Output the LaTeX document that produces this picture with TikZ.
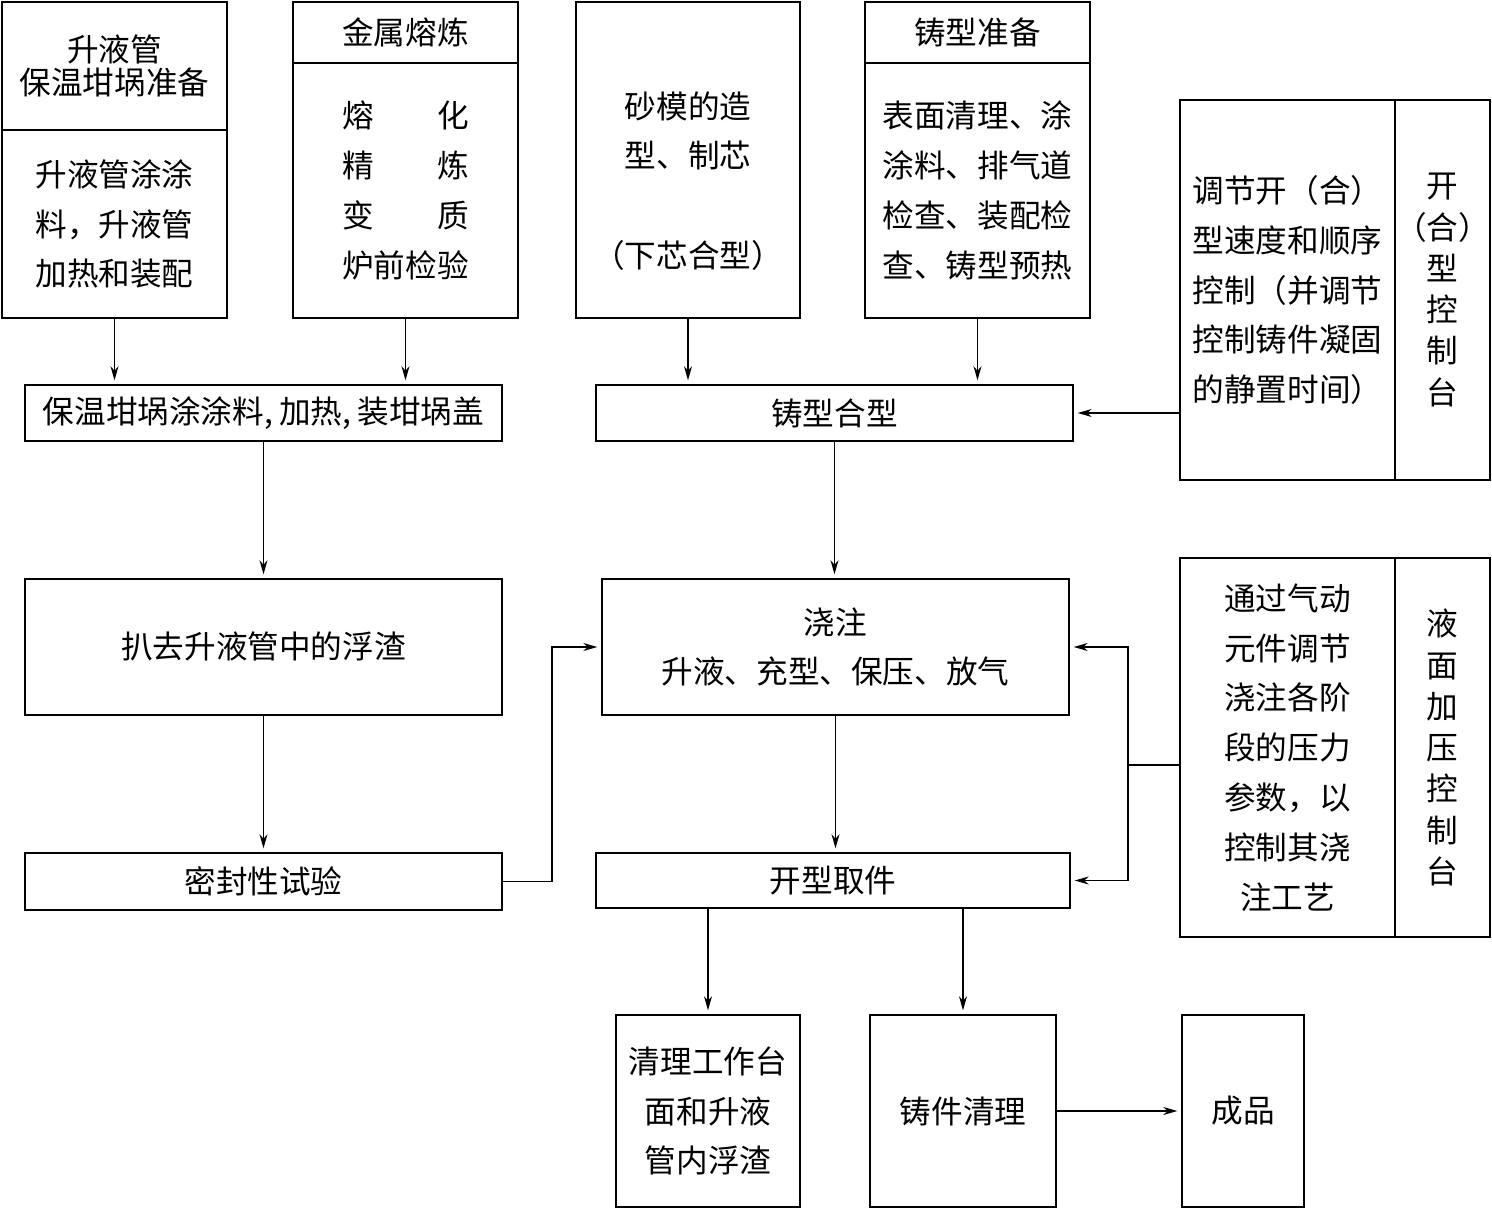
\documentclass[tikz,border=0pt]{standalone}
\usepackage{fontspec}
\newfontfamily\cjk{Noto Sans CJK SC}
\usetikzlibrary{arrows.meta}

\tikzset{
	box/.style={draw, line width=1.3pt, inner sep=0pt, align=center,
		font=\cjk\fontsize{18pt}{28.35pt}\selectfont},
	txt/.style={inner sep=0pt, align=center, font=\cjk\fontsize{18pt}{28.35pt}\selectfont},
	col/.style={box, font=\cjk\fontsize{18pt}{23.5pt}\selectfont},
	conn/.style={line width=0.8pt},
	arr/.style={conn, -{Stealth[length=8pt, width=4.5pt, inset=2.5pt]}, shorten >=2pt}
}

\begin{document}
\begin{tikzpicture}[x=0.02cm, y=-0.02cm]
	\useasboundingbox (0,0) rectangle (1492,1209);
	
	% top row
	\node[box, minimum width=4.5cm, minimum height=2.56cm,
		font=\cjk\fontsize{18pt}{18.7pt}\selectfont] (sjt) at (114.5,66) {升液管\\保温坩埚准备};
	\node[box, minimum width=4.5cm, minimum height=3.76cm] (sjb) at (114.5,224) {升液管涂涂\\料，升液管\\加热和装配};
	
	\node[box, minimum width=4.5cm, minimum height=1.22cm] (jst) at (405.5,32.5) {金属熔炼};
	\node[box, minimum width=4.5cm, minimum height=5.1cm] (jsb) at (405.5,190.5)
		{熔\hspace{2em}化\\精\hspace{2em}炼\\变\hspace{2em}质\\炉前检验};
	
	\node[box, minimum width=4.48cm, minimum height=6.32cm] (smx) at (688,160) {};
	\node[txt] (smtxt) at (688,181) {砂模的造\\型、制芯\\[28.35pt]（下芯合型）};
	
	\node[box, minimum width=4.5cm, minimum height=1.22cm] (zxt) at (977.5,32.5) {铸型准备};
	\node[box, minimum width=4.5cm, minimum height=5.1cm] (zxb) at (977.5,190.5)
		{表面清理、涂\\涂料、排气道\\检查、装配检\\查、铸型预热};
	
	% control desks
	\node[box, minimum width=4.3cm, minimum height=7.6cm] (kht) at (1287.5,290)
		{调节开（合）\\型速度和顺序\\控制（并调节\\控制铸件凝固\\的静置时间）};
	\node[col, minimum width=1.9cm, minimum height=7.6cm] (khk) at (1442.5,290)
		{开\\（合）\\型\\控\\制\\台};
	
	\node[box, minimum width=4.3cm, minimum height=7.58cm] (yyt) at (1287.5,747.5)
		{通过气动\\元件调节\\浇注各阶\\段的压力\\参数，以\\控制其浇\\注工艺};
	\node[col, minimum width=1.9cm, minimum height=7.58cm] (yyk) at (1442.5,747.5)
		{液\\面\\加\\压\\控\\制\\台};
	
	% main flow
	\node[box, minimum width=9.54cm, minimum height=1.12cm] (bw) at (263.5,413)
		{保温坩埚涂涂料,\hspace{0.2em}加热,\hspace{0.2em}装坩埚盖};
	\node[box, minimum width=9.54cm, minimum height=1.12cm] (zh) at (834.5,413) {铸型合型};
	
	\node[box, minimum width=9.54cm, minimum height=2.72cm] (pz) at (263.5,647) {扒去升液管中的浮渣};
	\node[box, minimum width=9.34cm, minimum height=2.72cm] (jz) at (835.5,647) {浇注\\升液、充型、保压、放气};
	
	\node[box, minimum width=9.54cm, minimum height=1.14cm] (mf) at (263.5,881.5) {密封性试验};
	\node[box, minimum width=9.48cm, minimum height=1.1cm] (kx) at (833,880.5) {开型取件};
	
	\node[box, minimum width=3.68cm, minimum height=3.84cm] (ql) at (708,1111) {清理工作台\\面和升液\\管内浮渣};
	\node[box, minimum width=3.72cm, minimum height=3.84cm] (jq) at (963,1111) {铸件清理};
	\node[box, minimum width=2.44cm, minimum height=3.84cm] (cp) at (1243,1111) {成品};
	
	\coordinate (jn) at (1128,765);
	
	\draw[arr] (sjb.south) -- (sjb.south |- bw.north);
	\draw[arr] (jsb.south) -- (jsb.south |- bw.north);
	\draw[arr] (smx.south) -- (smx.south |- zh.north);
	\draw[arr] (zxb.south) -- (zxb.south |- zh.north);
	\draw[arr] (kht.west |- zh.east) -- (zh.east);
	
	\draw[arr] (bw.south) -- (pz.north);
	\draw[arr] (pz.south) -- (mf.north);
	\draw[arr] (zh.south) -- (zh.south |- jz.north);
	\draw[arr] (jz.south) -- (jz.south |- kx.north);
	\draw[arr] (mf.east) -- ++(49,0) |- (jz.west);
	
	\draw[conn] (yyt.west |- jn) -- (jn);
	\draw[arr] (jn) |- (jz.east);
	\draw[arr] (jn) |- (kx.east);
	
	\draw[arr] (kx.south -| ql.north) -- (ql.north);
	\draw[arr] (kx.south -| jq.north) -- (jq.north);
	\draw[arr] (jq.east) -- (cp.west);
	
\end{tikzpicture}
\end{document}
